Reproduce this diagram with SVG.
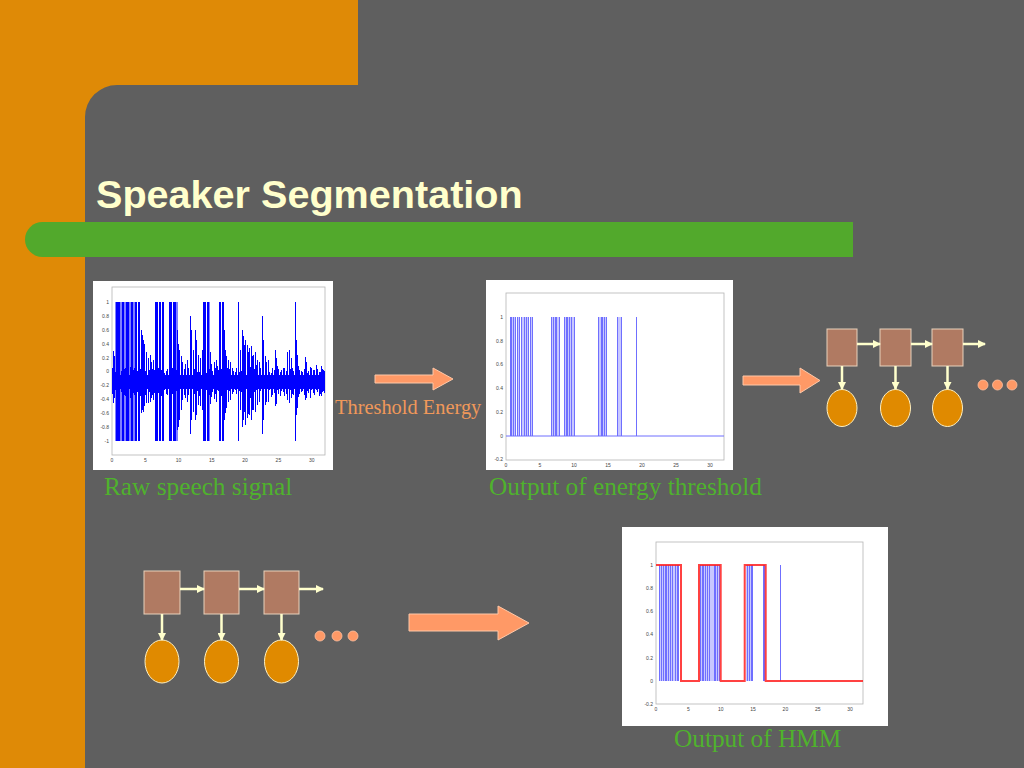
<svg xmlns="http://www.w3.org/2000/svg" width="1024" height="768" viewBox="0 0 1024 768">
<defs>
<style>
.bg{fill:#5f5f5f}
.orange{fill:#df8a06}
.green{fill:#52a92c}
.title{font-family:"Liberation Sans",Arial,sans-serif;font-weight:bold;font-size:39.6px;fill:#ffffcc}
.cap{font-family:"Liberation Serif","Times New Roman",serif;font-size:25.3px;fill:#4fb22d}
.thr{font-family:"Liberation Serif","Times New Roman",serif;font-size:20.4px;fill:#f0985a}
.plotbg{fill:#ffffff}
.axes{fill:none;stroke:#b4b4b4;stroke-width:0.8}
.tick{font-family:"Liberation Sans",Arial,sans-serif;font-size:5px;fill:#444}
.sig{stroke:#0000ff;stroke-width:1;fill:none}
.sigl{stroke:#6f6fff;stroke-width:1;fill:none}
.shade{fill:#c8c8ff}
.burst{fill:#0000ff}
.red{stroke:#ff2020;stroke-width:2;fill:none;stroke-opacity:0.85}
.block{fill:#ff9966;stroke:#ffc8a8;stroke-width:1}
.state{fill:#b07a62;stroke:#e8d2bc;stroke-width:1}
.obs{fill:#e08a00;stroke:#fff0c0;stroke-width:1}
.link{stroke:#ffffcc;stroke-width:2.5;fill:none}
.dot{fill:#ff9966;stroke:#ffc0a0;stroke-width:0.8}
</style>
<marker id="ah" markerWidth="8" markerHeight="8" refX="7" refY="4" orient="auto" markerUnits="userSpaceOnUse">
<path d="M0 0 L8 4 L0 8 Z" fill="#ffffcc"/>
</marker>
</defs>

<g id="background">
<rect class="bg" x="0" y="0" width="1024" height="768"/>
<path class="orange" d="M0 0 H358 V85 H117 A32 32 0 0 0 85 117 V768 H0 Z"/>
<path class="green" d="M42.5 222 H853 V257 H42.5 A17.5 17.5 0 0 1 42.5 222 Z"/>
</g>

<text id="title" class="title" x="96" y="208">Speaker Segmentation</text>

<g id="raw-speech-plot">
<rect class="plotbg" x="93" y="281" width="240" height="189"/>
<rect class="axes" x="112" y="287" width="213" height="168"/>
<g class="tick" text-anchor="end">
<text x="109" y="304">1</text><text x="109" y="318">0.8</text><text x="109" y="332">0.6</text><text x="109" y="346">0.4</text><text x="109" y="360">0.2</text><text x="109" y="373">0</text><text x="109" y="387">-0.2</text><text x="109" y="401">-0.4</text><text x="109" y="415">-0.6</text><text x="109" y="429">-0.8</text><text x="109" y="443">-1</text>
</g>
<g class="tick" text-anchor="middle">
<text x="112" y="462">0</text><text x="145.3" y="462">5</text><text x="178.6" y="462">10</text><text x="211.8" y="462">15</text><text x="245.1" y="462">20</text><text x="278.4" y="462">25</text><text x="311.7" y="462">30</text>
</g>
<rect x="112" y="375" width="213" height="14" fill="#0000ff"/>
<g transform="translate(0.5,0)">
<path class="sig" d="M112 368V394M115 372V390M118 366V397M121 371V392M124 369V395M127 373V391M130 367V398M133 370V393M136 365V390M139 372V396M142 369V392M145 371V395M148 367V391M151 373V397M154 370V393M157 366V390M160 372V396M163 368V392M166 371V394M169 369V391M172 368V394M175 372V390M178 366V397M181 371V392M184 369V395M187 373V391M190 367V398M193 370V393M196 365V390M199 372V396M202 369V392M205 371V395M208 367V391M211 373V397M214 370V393M217 366V390M220 372V396M223 368V392M226 371V394M229 369V391M232 368V394M235 372V390M238 366V397M241 371V392M244 369V395M247 373V391M250 367V398M253 370V393M256 365V390M259 372V396M262 369V392M265 371V395M268 367V391M271 373V397M274 370V393M277 366V390M280 372V396M283 368V392M286 371V394M289 369V391M292 368V394M295 372V390M298 366V397M301 371V392M304 369V395M307 373V391M310 367V398M313 370V393M316 365V390M319 372V396M322 369V392M324 371V393"/>
<path class="sig" d="M113 370V392M116 373V389M119 369V394M122 372V391M125 368V396M128 371V393M131 374V390M134 368V395M137 371V392M140 369V396M143 373V390M146 368V394M149 370V392M152 369V395M155 372V391M158 368V393M161 370V396M164 373V390M167 369V395M170 371V392M173 367V394M176 370V391M179 368V396M182 372V393M185 370V390M188 368V395M191 371V392M194 369V394M197 372V391M200 368V396M203 370V393M206 373V390M209 369V395M212 371V392M215 368V394M218 370V391M221 369V396M224 372V393M227 368V390M230 370V395M233 371V392M236 368V394M239 372V391M242 369V396M245 370V393M248 368V390M251 371V395M254 369V392M257 372V394M260 368V391M263 370V396M266 369V393M269 372V390M272 368V395M275 371V392M278 369V394M281 370V391M284 368V396M287 372V393M290 369V390M293 371V395M296 368V392M299 370V394M302 372V391M305 369V396M308 371V393M311 368V390M314 370V395M317 369V392M320 372V394M323 370V391"/>
<path class="sig" d="M113 351V403M114 356V398M141 330V413M142 335V410M143 340V412M144 344V406M146 352V403M148 358V403M150 355V402M151 362V398M153 360V400M177 330V430M178 344V427M179 350V420M181 356V410M182 362V400M185 364V398M187 360V402M190 316V434M191 330V420M193 350V412M195 330V420M196 340V415M198 355V405M200 358V406M202 350V410M210 352V404M211 364V396M214 362V399M216 360V402M224 330V420M225 350V413M226 356V408M228 360V402M230 362V400M238 302V441M240 350V410M242 330V427M243 336V420M244 345V412M245 340V425M247 345V418M248 352V414M249 348V415M251 346V420M252 356V410M253 355V410M255 352V412M257 360V405M259 362V402M262 316V434M263 340V420M265 356V405M266 362V402M268 360V402M275 350V406M276 358V404M287 352V400M289 350V403M291 358V398M295 302V441M296 340V415M297 355V408M305 357V400M306 362V398M321 366V396"/>
</g>
<g class="burst">
<rect x="115.5" y="302" width="5" height="139"/><rect x="121.5" y="302" width="3" height="139"/><rect x="125.5" y="302" width="4" height="139"/><rect x="130.5" y="302" width="3" height="139"/><rect x="134.5" y="302" width="2.5" height="139"/><rect x="138" y="302" width="2" height="139"/>
<rect x="155" y="302" width="3" height="139"/><rect x="159" y="302" width="2" height="139"/><rect x="162" y="302" width="2" height="139"/>
<rect x="169" y="302" width="3" height="139"/><rect x="173" y="302" width="3" height="139"/><rect x="176.5" y="302" width="1" height="139"/>
<rect x="203" y="302" width="3" height="139"/><rect x="207" y="302" width="2.5" height="139"/>
<rect x="219" y="302" width="2" height="139"/><rect x="222" y="302" width="2" height="139"/>
</g>
</g>

<g id="energy-threshold-plot">
<rect class="plotbg" x="486" y="280" width="247" height="190"/>
<rect class="axes" x="506" y="293" width="218" height="167"/>
<g class="tick" text-anchor="end">
<text x="503" y="319">1</text><text x="503" y="343">0.8</text><text x="503" y="366">0.6</text><text x="503" y="390">0.4</text><text x="503" y="414">0.2</text><text x="503" y="438">0</text><text x="503" y="461">-0.2</text>
</g>
<g class="tick" text-anchor="middle">
<text x="506" y="467">0</text><text x="540" y="467">5</text><text x="574" y="467">10</text><text x="608" y="467">15</text><text x="642" y="467">20</text><text x="676" y="467">25</text><text x="710" y="467">30</text>
</g>
<g class="shade">
<rect x="510" y="317" width="5" height="119"/><rect x="517" y="317" width="2" height="119"/><rect x="521" y="317" width="3" height="119"/><rect x="525" y="317" width="3" height="119"/><rect x="530" y="317" width="2" height="119"/><rect x="551" y="317" width="4" height="119"/><rect x="556" y="317" width="3" height="119"/><rect x="564" y="317" width="7" height="119"/><rect x="572" y="317" width="2" height="119"/><rect x="598" y="317" width="3" height="119"/><rect x="602" y="317" width="5" height="119"/><rect x="617" y="317" width="4" height="119"/>
</g>
<path class="sigl" transform="translate(0.5,0)" d="M510 317V436M511 317V436M513 317V436M515 317V436M517 317V436M519 317V436M521 317V436M524 317V436M526 317V436M528 317V436M530 317V436M532 317V436M551 317V436M553 317V436M555 317V436M556 317V436M559 317V436M564 317V436M566 317V436M567 317V436M569 317V436M571 317V436M574 317V436M598 317V436M601 317V436M602 317V436M604 317V436M606 317V436M617 317V436M621 317V436M636 317V436"/>
<path class="sigl" d="M506 436H724"/>
</g>

<g id="hmm-output-plot">
<rect class="plotbg" x="622" y="527" width="266" height="199"/>
<rect class="axes" x="656" y="542" width="207" height="162"/>
<g class="tick" text-anchor="end">
<text x="653" y="567">1</text><text x="653" y="590">0.8</text><text x="653" y="613">0.6</text><text x="653" y="636">0.4</text><text x="653" y="660">0.2</text><text x="653" y="683">0</text><text x="653" y="706">-0.2</text>
</g>
<g class="tick" text-anchor="middle">
<text x="656" y="711">0</text><text x="688.3" y="711">5</text><text x="720.7" y="711">10</text><text x="753" y="711">15</text><text x="785.4" y="711">20</text><text x="817.7" y="711">25</text><text x="850" y="711">30</text>
</g>
<g class="shade">
<rect x="659" y="565" width="20" height="116"/><rect x="700" y="565" width="20" height="116"/><rect x="746" y="565" width="6" height="116"/>
</g>
<path class="sigl" transform="translate(0.5,0)" d="M659 565V681M661 565V681M663 565V681M665 565V681M666 565V681M668 565V681M670 565V681M672 565V681M675 565V681M677 565V681M678 565V681M700 565V681M702 565V681M703 565V681M705 565V681M707 565V681M709 565V681M714 565V681M715 565V681M717 565V681M719 565V681M747 565V681M749 565V681M751 565V681M752 565V681M763 565V681M764 565V681M780 565V681"/>
<path class="red" d="M656 565H681V681H699V565H720.7V681H744.7V565H765.7V681H863"/>
</g>

<text id="label-raw" class="cap" x="104" y="495">Raw speech signal</text>
<text id="label-energy" class="cap" x="489" y="495">Output of energy threshold</text>
<text id="label-hmm" class="cap" x="674" y="747">Output of HMM</text>
<text id="label-threshold" class="thr" x="335" y="414">Threshold Energy</text>

<g id="hmm-chain-top">
<rect class="state" x="827" y="329" width="30" height="37"/>
<rect class="state" x="880" y="329" width="31" height="37"/>
<rect class="state" x="932" y="329" width="31" height="37"/>
<ellipse class="obs" cx="842" cy="408" rx="15" ry="18.5"/>
<ellipse class="obs" cx="895.5" cy="408" rx="15" ry="18.5"/>
<ellipse class="obs" cx="947.5" cy="408" rx="15" ry="18.5"/>
<circle class="dot" cx="983" cy="385" r="5"/>
<circle class="dot" cx="997.5" cy="385" r="5"/>
<circle class="dot" cx="1012" cy="385" r="5"/>
</g>

<g id="hmm-chain-bottom">
<rect class="state" x="144" y="571" width="36" height="43"/>
<rect class="state" x="204" y="571" width="35" height="43"/>
<rect class="state" x="264" y="571" width="35" height="43"/>
<ellipse class="obs" cx="162" cy="661.5" rx="17" ry="21.5"/>
<ellipse class="obs" cx="221.5" cy="661.5" rx="17" ry="21.5"/>
<ellipse class="obs" cx="281.5" cy="661.5" rx="17" ry="21.5"/>
<circle class="dot" cx="320" cy="636" r="5"/>
<circle class="dot" cx="337" cy="636" r="5"/>
<circle class="dot" cx="353" cy="636" r="5"/>
</g>

<g id="connectors">
<path class="block" d="M375 375H433V368L453 379L433 390V383H375Z"/>
<path class="block" d="M743 376H800V368L820 380.5L800 393V385H743Z"/>
<path class="block" d="M409 614H498V606L529 623L498 640V631H409Z"/>
<g class="link" marker-end="url(#ah)">
<path d="M857 344H880"/>
<path d="M911 344H932"/>
<path d="M963 344H985"/>
<path d="M842 366V389"/>
<path d="M895.5 366V389"/>
<path d="M947.5 366V389"/>
<path d="M180 589H204"/>
<path d="M239 589H264"/>
<path d="M299 589H323"/>
<path d="M162 614V640"/>
<path d="M221.5 614V640"/>
<path d="M281.5 614V640"/>
</g>
</g>
</svg>
